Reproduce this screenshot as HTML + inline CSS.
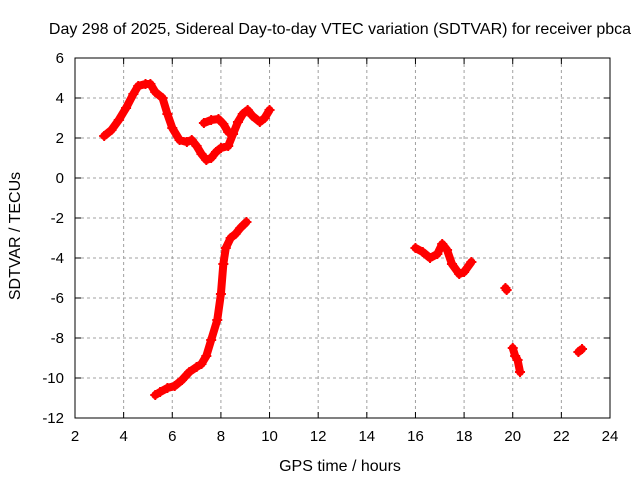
<!DOCTYPE html>
<html><head><meta charset="utf-8"><style>
body{margin:0;background:#fff;}
svg{display:block;font-family:"Liberation Sans",sans-serif;}
</style></head><body>
<svg id="chart" width="640" height="480">
<rect width="640" height="480" fill="#fff"/>
<text x="340" y="34" font-size="16" text-anchor="middle">Day 298 of 2025, Sidereal Day-to-day VTEC variation (SDTVAR) for receiver pbca</text>
<text x="340" y="471" font-size="16" text-anchor="middle">GPS time / hours</text>
<text x="0" y="0" font-size="16" text-anchor="middle" transform="translate(20,236) rotate(-90)">SDTVAR / TECUs</text>
<g id="grid"></g><g id="axes"></g><g id="marks"></g>
</svg>
<script>
const xTicks=[2,4,6,8,10,12,14,16,18,20,22,24];
const yTicks=[6,4,2,0,-2,-4,-6,-8,-10,-12];
const segA_hours=[3.2,3.5,3.8,4.1,4.4,4.6,4.9,5.1,5.3,5.6,5.8,6.0,6.3,6.6,6.8,7.0,7.2,7.4,7.6,7.8,8.0,8.3,8.5,8.7,8.9,9.1,9.3,9.6,9.8,10.0];
const segA_values=[2.1,2.4,2.9,3.5,4.2,4.6,4.7,4.7,4.3,4.0,3.2,2.5,1.9,1.8,1.9,1.6,1.2,0.9,1.0,1.3,1.5,1.6,2.2,2.8,3.2,3.4,3.1,2.8,3.0,3.4];
const segA2_hours=[7.3,7.6,7.9,8.1,8.3];
const segA2_values=[2.75,2.9,2.95,2.7,2.3];
const segB_hours=[5.3,5.5,5.8,6.1,6.4,6.7,7.0,7.2,7.4,7.6,7.85,8.0,8.1,8.2,8.4,8.6,8.8,9.05];
const segB_values=[-10.85,-10.7,-10.5,-10.4,-10.1,-9.7,-9.45,-9.3,-8.9,-8.1,-7.1,-5.8,-4.3,-3.5,-3.0,-2.8,-2.5,-2.2];
const segC_hours=[16.0,16.3,16.6,16.9,17.1,17.3,17.5,17.8,18.0,18.3];
const segC_values=[-3.5,-3.7,-4.0,-3.8,-3.3,-3.6,-4.3,-4.8,-4.7,-4.2];
const segD_hours=[19.7,19.75];
const segD_values=[-5.5,-5.6];
const segE_hours=[20.0,20.1,20.2,20.3];
const segE_values=[-8.5,-8.9,-9.1,-9.7];
const segF_hours=[22.7,22.85];
const segF_values=[-8.7,-8.55];

const X0=75,X1=610,Y0=58,Y1=418;
const xs=h=>X0+(h-2)*(X1-X0)/22;
const ys=v=>Y0+(6-v)*(Y1-Y0)/18;
const NS="http://www.w3.org/2000/svg";
function mk(t,a,p){const e=document.createElementNS(NS,t);for(const k in a)e.setAttribute(k,a[k]);p.appendChild(e);return e;}
const grid=document.getElementById('grid'),axes=document.getElementById('axes'),marks=document.getElementById('marks');
xTicks.forEach(t=>{
  const x=xs(t);
  if(t>2&&t<24){const l=mk('line',{x1:x,x2:x,y1:Y0,y2:Y1,stroke:'#a0a0a0','stroke-dasharray':'3,3'},grid);
  
  }
  mk('line',{x1:x,x2:x,y1:Y1,y2:Y1-6,stroke:'#000'},axes);
  mk('line',{x1:x,x2:x,y1:Y0,y2:Y0+6,stroke:'#000'},axes);
  const tx=mk('text',{x:x,y:Y1+23,'font-size':15,'text-anchor':'middle'},axes);tx.textContent=t;
  
  
});
yTicks.forEach(t=>{
  const y=ys(t);
  if(t<6&&t>-12){const l=mk('line',{x1:X0,x2:X1,y1:y,y2:y,stroke:'#a0a0a0','stroke-dasharray':'3,3'},grid);
  
  }
  mk('line',{x1:X0,x2:X0+6,y1:y,y2:y,stroke:'#000'},axes);
  mk('line',{x1:X1,x2:X1-6,y1:y,y2:y,stroke:'#000'},axes);
  const tx=mk('text',{x:X0-11,y:y+5,'font-size':15,'text-anchor':'end'},axes);tx.textContent=t;
  
  
});
const fr=mk('rect',{x:X0,y:Y0,width:X1-X0,height:Y1-Y0,fill:'none',stroke:'#000'},axes);


function seg(hs,vs,name){
  const g=mk('g',{},marks);
  
  
  const pts=hs.map((h,i)=>xs(h)+','+ys(vs[i])).join(' ');
  if(hs.length>1)mk('polyline',{points:pts,fill:'none',stroke:'#f00','stroke-width':8,'stroke-linejoin':'round','stroke-linecap':'round'},g);
  hs.forEach((h,i)=>{const x=xs(h),y=ys(vs[i]);
    const p=mk('path',{d:`M${x-5},${y}H${x+5}M${x},${y-5}V${y+5}`,stroke:'#f00','stroke-width':2},g);
    
    });
}
seg(segA_hours,segA_values,'series-segment-a');
seg(segA2_hours,segA2_values,'series-segment-a2');
seg(segB_hours,segB_values,'series-segment-b');
seg(segC_hours,segC_values,'series-segment-c');
seg(segD_hours,segD_values,'series-segment-d');
seg(segE_hours,segE_values,'series-segment-e');
seg(segF_hours,segF_values,'series-segment-f');
</script>
</body></html>
